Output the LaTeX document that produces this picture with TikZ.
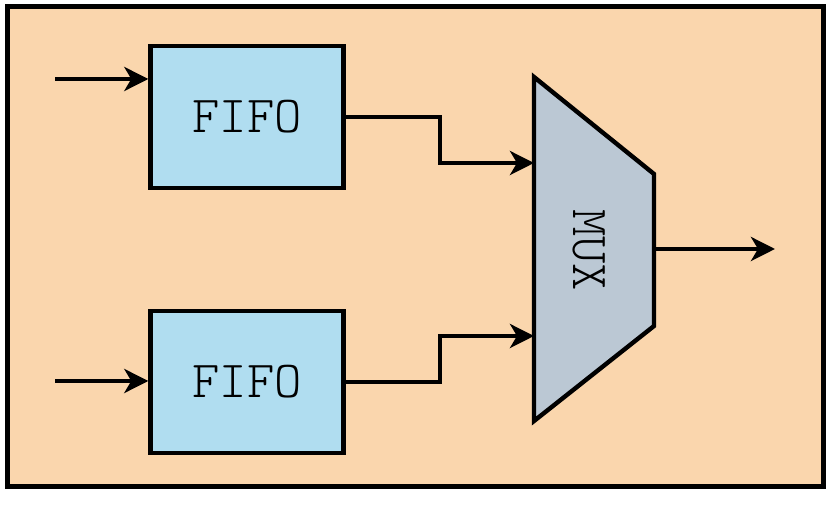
\documentclass[tikz,border=0pt]{standalone}
\usetikzlibrary{arrows.meta}
\newcommand\ttlabel{\ttfamily\fontseries{l}\selectfont}
\definecolor{bgpeach}{HTML}{FAD6AD}
\definecolor{fifoblue}{HTML}{B0DDF0}
\definecolor{muxgray}{HTML}{BBC8D4}
\begin{document}
\begin{tikzpicture}
  [x=0.5pt, y=-0.5pt,
   fifo/.style={draw, line width=2.2pt, fill=fifoblue, inner sep=0pt,
     minimum width=96.5pt, minimum height=71pt,
     font=\ttlabel\fontsize{26}{26}\selectfont},
   wire/.style={line width=2.2pt, -{Stealth[length=12pt, width=12pt, inset=3.5pt]}}]
  % Page size and the frame round everything
  \useasboundingbox (0,0) rectangle (831,506);
  \draw [line width=2.5pt, fill=bgpeach] (7,7) rectangle (823,487);
  % The two queues
  \node [fifo] (fifo1) at (247,117) {FIFO};
  \node [fifo] (fifo2) at (247,382) {FIFO};
  % Multiplexer outline and its ports
  \coordinate (mux nw) at (534,77);
  \coordinate (mux ne) at (654,174);
  \coordinate (mux se) at (654,326);
  \coordinate (mux sw) at (534,421);
  \draw [line width=2.2pt, fill=muxgray, line join=miter]
    (mux nw) -- (mux ne) -- (mux se) -- (mux sw) -- cycle;
  \node [rotate=-90, font=\ttlabel\fontsize{26}{26}\selectfont] (mux) at (589,250) {MUX};
  \coordinate (mux in1) at (534,163);
  \coordinate (mux in2) at (534,336);
  \coordinate (mux out) at (654,249);
  % Inputs on the left
  \coordinate (in1) at (55,79);
  \coordinate (in2) at (55,381);
  \draw [wire] (in1) -- (in1 -| fifo1.west);
  \draw [wire] (in2) -- (in2 -| fifo2.west);
  % Queues into the multiplexer
  \draw [wire] (fifo1.east) -- ++(94,0) |- (mux in1);
  \draw [wire] (fifo2.east) -- ++(94,0) |- (mux in2);
  % Output
  \coordinate (out) at (775,249);
  \draw [wire] (mux out) -- (out);
\end{tikzpicture}
\end{document}
